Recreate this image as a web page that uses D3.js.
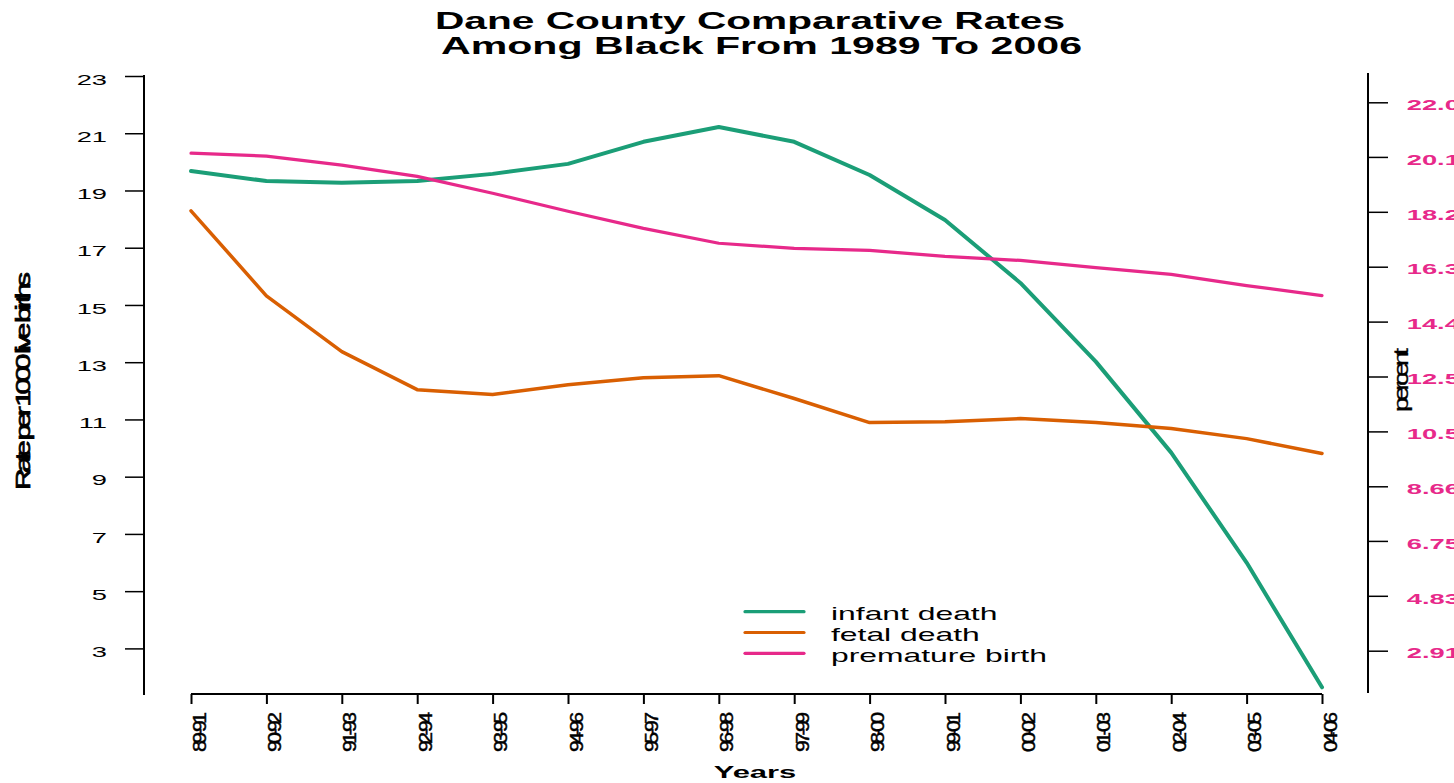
<!DOCTYPE html>
<html><head><meta charset="utf-8">
<script src="https://cdn.jsdelivr.net/npm/d3@7"></script>
<style>html,body{margin:0;padding:0;background:#fff;overflow:hidden}</style>
</head><body>
<svg id="c" width="1454" height="783"></svg>
<script>
const periods = ["89-91","90-92","91-93","92-94","93-95","94-96","95-97","96-98","97-99","98-00","99-01","00-02","01-03","02-04","03-05","04-06"];
const infantDeath = [19.68,19.33,19.27,19.33,19.58,19.93,20.70,21.22,20.70,19.54,17.97,15.77,13.02,9.84,6.00,1.64];
const fetalDeath = [18.29,15.32,13.37,12.04,11.87,12.21,12.46,12.53,11.73,10.89,10.92,11.03,10.89,10.68,10.33,9.81];
const prematureBirth = [20.31,20.21,19.89,19.50,18.91,18.28,17.68,17.16,16.98,16.91,16.70,16.56,16.31,16.07,15.68,15.33];
const leftTicks = [3,5,7,9,11,13,15,17,19,21,23];
const rightTickValues = [2.91,4.83,6.75,8.66,10.58,12.50,14.42,16.34,18.26,20.18,22.09];
const rightTickLabels = ["2.91","4.83","6.75","8.66","10.58","12.50","14.42","16.34","18.26","20.18","22.09"];
const seriesNames = ["infant death","fetal death","premature birth"];
const colors = ["#1b9e77","#d95f02","#e7298a"];

const svg = d3.select("#c");
const font = "Liberation Sans, Arial, sans-serif";
const SX = 1.82; // horizontal glyph stretch seen in the reference

const x = d3.scalePoint().domain(periods).range([191,1322]);
const yL = d3.scaleLinear().domain([3,23]).range([648.4,76]);
const yR = d3.scaleLinear().domain([2.91,22.09]).range([650.7,102.3]);

// title
svg.append("text").attr("x",435).attr("y",29)
  .attr("font-family",font).attr("font-weight","bold").attr("font-size",24)
  .attr("textLength",630).attr("lengthAdjust","spacingAndGlyphs").text("Dane County Comparative Rates");
svg.append("text").attr("x",441).attr("y",54)
  .attr("font-family",font).attr("font-weight","bold").attr("font-size",24)
  .attr("textLength",641).attr("lengthAdjust","spacingAndGlyphs").text("Among Black From 1989 To 2006");

// left axis
const gL = svg.append("g").attr("transform","translate(144,0)")
  .call(d3.axisLeft(yL).tickValues(leftTicks).tickSize(19).tickFormat(d3.format("d")));
gL.select(".domain").remove();
gL.append("line").attr("x1",0).attr("x2",0).attr("y1",75).attr("y2",695).attr("stroke","#000").attr("stroke-width",2);
gL.selectAll(".tick line").attr("stroke","#000").attr("stroke-width",1.5);
gL.selectAll(".tick text").attr("font-family",font).attr("font-size",15).attr("fill","#000")
  .attr("x",0).attr("dy","0.35em").attr("text-anchor","end")
  .attr("transform",`translate(-37,3) scale(${SX},1)`);

// right axis
const gR = svg.append("g").attr("transform","translate(1368,0)")
  .call(d3.axisRight(yR).tickValues(rightTickValues).tickSize(20)
    .tickFormat((d,i)=>rightTickLabels[i]));
gR.select(".domain").remove();
gR.append("line").attr("x1",0).attr("x2",0).attr("y1",73).attr("y2",693).attr("stroke","#000").attr("stroke-width",2);
gR.selectAll(".tick line").attr("stroke","#000").attr("stroke-width",1.5);
gR.selectAll(".tick text").attr("font-family",font).attr("font-size",15).attr("font-weight","bold").attr("fill",colors[2])
  .attr("x",0).attr("dy","0.35em").attr("text-anchor","start")
  .attr("transform",`translate(38.7,2) scale(${SX},1)`);

// x axis
const gX = svg.append("g").attr("transform","translate(0,694)")
  .call(d3.axisBottom(x).tickSize(10));
gX.select(".domain").attr("stroke","#000").attr("stroke-width",2).attr("d","M191,0H1322");
gX.selectAll(".tick line").attr("stroke","#000").attr("stroke-width",2);
gX.selectAll(".tick text").attr("font-family",font).attr("font-size",17).attr("fill","#000")
  .attr("stroke","#000").attr("stroke-width",0.4)
  .attr("text-anchor","end").attr("x",0).attr("y",0).attr("dy",0)
  .attr("transform","translate(14,18) rotate(-90) scale(1.25,1.05)")
  .attr("textLength",32).attr("lengthAdjust","spacing");

// axis titles
svg.append("text").attr("transform","translate(30,381) rotate(-90) scale(1.5,1.05)").attr("text-anchor","middle")
  .attr("font-family",font).attr("font-size",20).attr("stroke","#000").attr("stroke-width",0.7)
  .attr("textLength",218/1.5).attr("lengthAdjust","spacing").text("Rate per 1000 live births");
svg.append("text").attr("transform","translate(1408,380) rotate(-90) scale(1.3,1)").attr("text-anchor","middle")
  .attr("font-family",font).attr("font-size",21).attr("stroke","#000").attr("stroke-width",0.3)
  .attr("textLength",64/1.3).attr("lengthAdjust","spacing").text("percent");
svg.append("text").attr("transform",`translate(755,778) scale(${SX},1)`).attr("text-anchor","middle")
  .attr("font-family",font).attr("font-weight","bold").attr("font-size",17).text("Years");

// lines
const series = [
  {vals: infantDeath, scale: yL, w: 4},
  {vals: fetalDeath, scale: yL, w: 3.5},
  {vals: prematureBirth, scale: yR, w: 3.2}
];
series.forEach((s,i)=>{
  const line = d3.line().x((d,j)=>x(periods[j])).y(d=>s.scale(d));
  svg.append("path").datum(s.vals).attr("d",line).attr("fill","none")
    .attr("stroke",colors[i]).attr("stroke-width",s.w).attr("stroke-linejoin","round").attr("stroke-linecap","round");
});

// legend
const lg = svg.append("g");
seriesNames.forEach((n,i)=>{
  const yy = 611.7 + i*20.8;
  lg.append("line").attr("x1",745).attr("x2",804).attr("y1",yy).attr("y2",yy)
    .attr("stroke",colors[i]).attr("stroke-width",3.2).attr("stroke-linecap","round");
  lg.append("text").attr("transform",`translate(831,${yy+8.5}) scale(${SX},1)`)
    .attr("font-family",font).attr("font-size",17.5).text(n);
});
</script>
</body></html>
